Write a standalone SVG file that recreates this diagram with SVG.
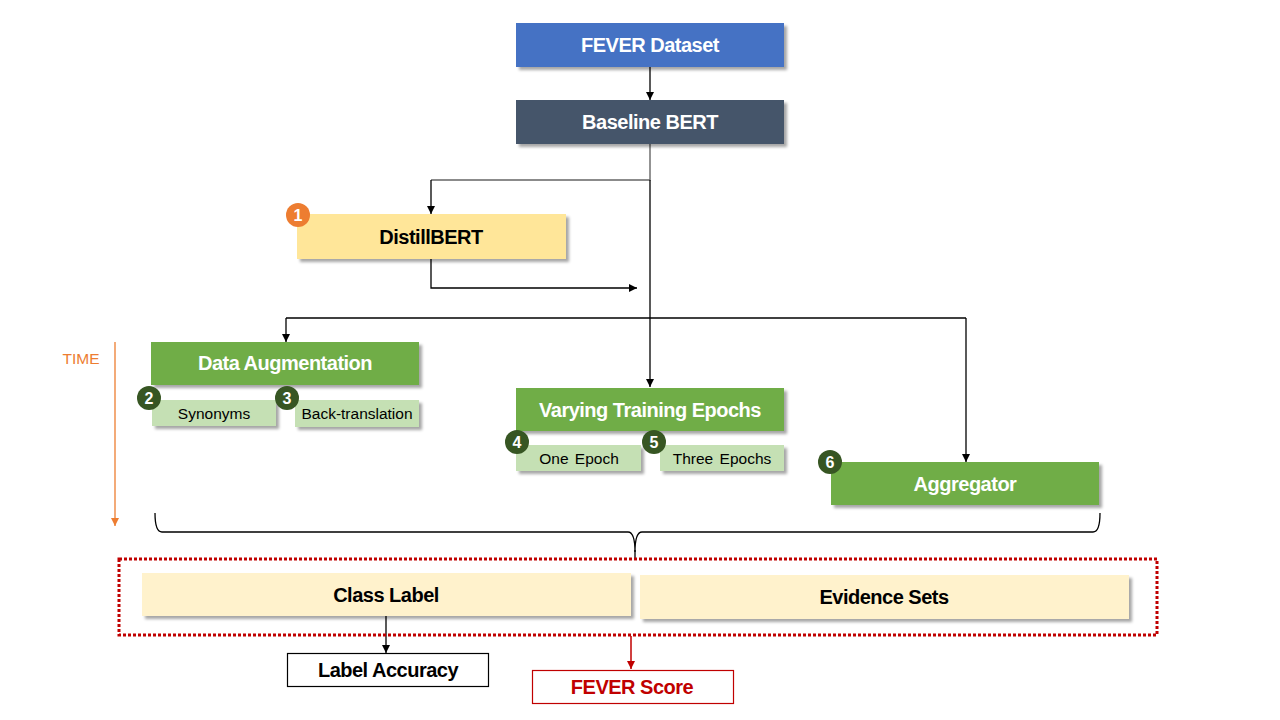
<svg xmlns="http://www.w3.org/2000/svg" width="1280" height="720" viewBox="0 0 1280 720">
<defs>
<filter id="sh" x="-10%" y="-20%" width="120%" height="150%">
<feDropShadow dx="3" dy="3" stdDeviation="1.8" flood-color="#000" flood-opacity="0.35"/>
</filter>
<marker id="ah" viewBox="0 0 10 10" refX="10" refY="5" markerWidth="8" markerHeight="8" markerUnits="userSpaceOnUse" orient="auto">
<path d="M0,0 L10,5 L0,10 z" fill="#000"/>
</marker>
<marker id="ahr" viewBox="0 0 10 10" refX="10" refY="5" markerWidth="8" markerHeight="8" markerUnits="userSpaceOnUse" orient="auto">
<path d="M0,0 L10,5 L0,10 z" fill="#C00000"/>
</marker>
<marker id="aho" viewBox="0 0 10 10" refX="10" refY="5" markerWidth="8" markerHeight="8" markerUnits="userSpaceOnUse" orient="auto">
<path d="M0,0 L10,5 L0,10 z" fill="#ED7D31"/>
</marker>
</defs>
<style>
text{font-family:"Liberation Sans",Arial,sans-serif;text-anchor:middle;dominant-baseline:central}
.t{font-size:20px;font-weight:bold;letter-spacing:-0.5px}
.w{fill:#fff}
.k{fill:#000}
.s{font-size:15.5px;fill:#000}
.b{font-size:16px;font-weight:bold;fill:#fff}
.ln{fill:none;stroke:#000;stroke-width:1.3}
.badge{fill:#375623}
</style>
<rect width="1280" height="720" fill="#fff"/>

<g id="connectors">
<line class="ln" x1="650" y1="67" x2="650" y2="100" marker-end="url(#ah)"/>
<polyline fill="none" stroke="#666" stroke-width="1.4" points="650,144 650,180 431,180"/>
<line class="ln" x1="431" y1="180" x2="431" y2="214" marker-end="url(#ah)"/>
<line class="ln" x1="650" y1="180" x2="650" y2="318"/>
<polyline class="ln" points="431,259 431,288 637,288" marker-end="url(#ah)"/>
<line class="ln" x1="286" y1="318" x2="966" y2="318"/>
<line class="ln" x1="286" y1="318" x2="286" y2="342" marker-end="url(#ah)"/>
<line class="ln" x1="650" y1="318" x2="650" y2="387" marker-end="url(#ah)"/>
<line class="ln" x1="966" y1="318" x2="966" y2="462" marker-end="url(#ah)"/>
<path class="ln" d="M155,513 Q155,532 162,532 L628,532 Q635,532 635,552 Q635,532 642,532 L1093,532 Q1100,532 1100,513"/>
<line class="ln" x1="635" y1="550" x2="635" y2="559"/>
<line class="ln" x1="386" y1="616" x2="386" y2="653" marker-end="url(#ah)"/>
<line fill="none" stroke="#C00000" stroke-width="1.5" x1="631" y1="636" x2="631" y2="669" marker-end="url(#ahr)"/>
</g>

<g id="time">
<text x="81" y="358" style="font-size:15.5px;fill:#ED7D31">TIME</text>
<line x1="115" y1="342" x2="115" y2="526" stroke="#ED7D31" stroke-width="1.3" marker-end="url(#aho)"/>
</g>

<g id="fever-dataset">
<rect x="516" y="23" width="268" height="44" fill="#4472C4" filter="url(#sh)"/>
<text class="t w" x="650" y="45">FEVER Dataset</text>
</g>
<g id="baseline-bert">
<rect x="516" y="100" width="268" height="44" fill="#44546A" filter="url(#sh)"/>
<text class="t w" x="650" y="122">Baseline BERT</text>
</g>
<g id="distilbert">
<rect x="297" y="214" width="269" height="45" fill="#FFE699" filter="url(#sh)"/>
<text class="t k" x="431" y="237">DistillBERT</text>
<circle cx="298" cy="215" r="12" fill="#ED7D31"/>
<text class="b" x="298" y="215">1</text>
</g>
<g id="data-augmentation">
<rect x="151" y="342" width="268" height="43" fill="#70AD47" filter="url(#sh)"/>
<text class="t w" x="285" y="363">Data Augmentation</text>
</g>
<g id="synonyms">
<rect x="152" y="400" width="124" height="26" fill="#C5E0B4" filter="url(#sh)"/>
<text class="s" x="214" y="413">Synonyms</text>
<circle cx="149" cy="398" r="12" class="badge"/>
<text class="b" x="149" y="398">2</text>
</g>
<g id="back-translation">
<rect x="295" y="400" width="124" height="27" fill="#C5E0B4" filter="url(#sh)"/>
<text class="s" x="357" y="413">Back-translation</text>
<circle cx="287" cy="398" r="12" class="badge"/>
<text class="b" x="287" y="398">3</text>
</g>
<g id="varying-epochs">
<rect x="516" y="388" width="268" height="43" fill="#70AD47" filter="url(#sh)"/>
<text class="t w" x="650" y="410">Varying Training Epochs</text>
</g>
<g id="one-epoch">
<rect x="516" y="445" width="125" height="26" fill="#C5E0B4" filter="url(#sh)"/>
<text class="s" x="579" y="458" style="word-spacing:2px">One Epoch</text>
<circle cx="517" cy="442" r="12" class="badge"/>
<text class="b" x="517" y="442">4</text>
</g>
<g id="three-epochs">
<rect x="660" y="445" width="124" height="26" fill="#C5E0B4" filter="url(#sh)"/>
<text class="s" x="722" y="458" style="word-spacing:2px">Three Epochs</text>
<circle cx="654" cy="442" r="12" class="badge"/>
<text class="b" x="654" y="442">5</text>
</g>
<g id="aggregator">
<rect x="831" y="462" width="268" height="43" fill="#70AD47" filter="url(#sh)"/>
<text class="t w" x="965" y="484">Aggregator</text>
<circle cx="830" cy="462" r="12" class="badge"/>
<text class="b" x="830" y="462">6</text>
</g>

<g id="output-group">
<rect x="119" y="559" width="1038" height="76" fill="none" stroke="#C00000" stroke-width="3" stroke-dasharray="3,2"/>
</g>
<g id="class-label">
<rect x="142" y="573" width="489" height="43" fill="#FFF2CC" filter="url(#sh)"/>
<text class="t k" x="386" y="595">Class Label</text>
</g>
<g id="evidence-sets">
<rect x="640" y="575" width="489" height="44" fill="#FFF2CC" filter="url(#sh)"/>
<text class="t k" x="884" y="597">Evidence Sets</text>
</g>
<g id="label-accuracy">
<rect x="287.5" y="653.5" width="201" height="33" fill="#fff" stroke="#000" stroke-width="1.2"/>
<text class="t k" x="388" y="670">Label Accuracy</text>
</g>
<g id="fever-score">
<rect x="532.5" y="670.5" width="201" height="33" fill="#fff" stroke="#C00000" stroke-width="1.2"/>
<text class="t" x="632" y="687" style="fill:#C00000">FEVER Score</text>
</g>
</svg>
